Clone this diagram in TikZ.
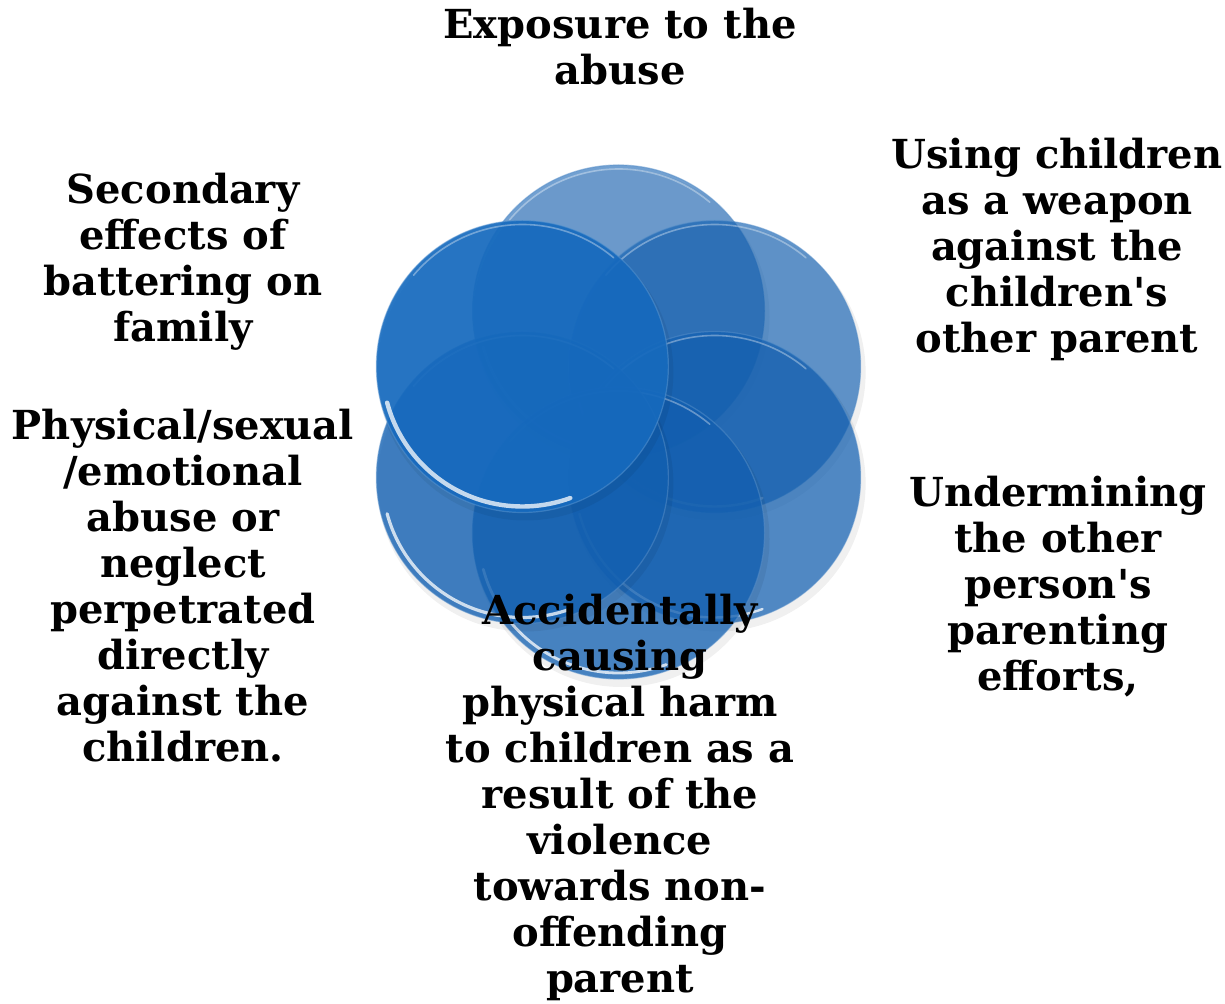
\documentclass[tikz,border=0pt]{standalone}
\usepackage{fontspec}
\setmainfont{DejaVu Serif}
\usetikzlibrary{calc}
\begin{document}
\begin{tikzpicture}[x=0.5pt,y=0.5pt,
  lbl/.style={align=center,inner sep=0pt,font=\fontsize{20}{23}\selectfont\bfseries,text=black},
  disc/.style 2 args={fill=#1,fill opacity=#2,draw=#1!70!white,draw opacity=0.5,line width=0.6pt}]
\definecolor{cbase}{RGB}{18,96,178}
\definecolor{cbright}{RGB}{22,106,190}
\useasboundingbox (0,0) rectangle (1225,-1004);
% circle centres
\coordinate (cc) at (618.5,-422);
\foreach \n/\a/\o/\c/\w in {ctop/90/0.6/cbase/1.2, cur/30/0.66/cbase/1.2, clr/-30/0.72/cbase/1.2, cbot/-90/0.76/cbase/1.4, cll/-150/0.8/cbase/1.6, cul/150/0.92/cbright/2.2}{
  \path (cc) ++(\a:111) coordinate (\n);
  \fill[black,opacity=0.06] ($(\n)+(3,-6)$) circle[radius=74pt];
  \path[disc={\c}{\o}] (\n) circle[radius=73pt];
  \draw[white,line width=\w pt,opacity=0.75,line cap=round] (\n) ++(195:70pt) arc[start angle=195,end angle=290,radius=70pt];
  \draw[white,line width=0.8pt,opacity=0.35,line cap=round] (\n) ++(50:71pt) arc[start angle=50,end angle=140,radius=71pt];
}
\node[lbl] (t1) at (620,-47) {Exposure to the\\abuse};
\node[lbl] (t2) at (1057,-249) {Using children\\as a weapon\\against the\\children\textquotesingle s\\other parent};
\node[lbl] (t3) at (1058,-587) {Undermining\\the other\\person\textquotesingle s\\parenting\\efforts,};
\node[lbl] (t4) at (620,-797) {Accidentally\\causing\\physical harm\\to children as a\\result of the\\violence\\towards non-\\offending\\parent};
\node[lbl] (t5) at (183,-586) {Physical/sexual\\/emotional\\abuse or\\neglect\\perpetrated\\directly\\against the\\children.};
\node[lbl] (t6) at (183,-262) {Secondary\\effects of\\battering on\\family};
\end{tikzpicture}
\end{document}
